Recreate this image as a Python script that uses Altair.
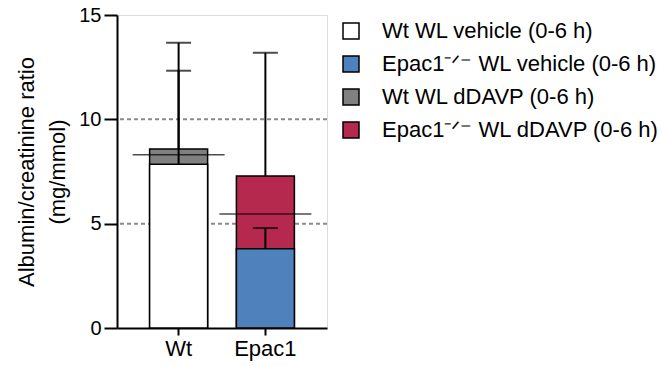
import altair as alt
import pandas as pd

groups = ["Wt", "Epac1"]
vehicle_mean = [7.85, 3.80]
vehicle_err = [12.33, 4.79]
ddavp_mean = [8.58, 7.29]
ddavp_err = [13.67, 13.19]
overall_line = [8.30, 5.46]
grid_values = [5, 10]

series_names = [
    "Wt WL vehicle (0-6 h)",
    "Epac1\u207b\u141f\u207b WL vehicle (0-6 h)",
    "Wt WL dDAVP (0-6 h)",
    "Epac1\u207b\u141f\u207b WL dDAVP (0-6 h)",
]
series_colors = ["#ffffff", "#4f81bd", "#808080", "#b5294f"]

veh = pd.DataFrame({
    "group": groups,
    "series": [series_names[0], series_names[1]],
    "value": vehicle_mean,
    "err": vehicle_err,
})
dd = pd.DataFrame({
    "group": groups,
    "series": [series_names[2], series_names[3]],
    "value": ddavp_mean,
    "err": ddavp_err,
})
allbars = pd.concat([dd, veh], ignore_index=True)
lines_df = pd.DataFrame({"group": groups, "line": overall_line})
grid_df = pd.DataFrame({"y": grid_values})

FONT = "Liberation Sans"

xenc = alt.X(
    "group:N",
    sort=groups,
    title=None,
    scale=alt.Scale(paddingOuter=0.21, paddingInner=0),
    axis=alt.Axis(labelAngle=0, labelFontSize=22, tickSize=7, tickWidth=2,
                  domainWidth=2, domainColor="black", tickColor="black",
                  labelColor="black", labelPadding=3, labelFont=FONT),
)
yscale = alt.Scale(domain=[0, 15], nice=False)
yenc = alt.Y(
    "value:Q",
    scale=yscale,
    title=["Albumin/creatinine ratio", "(mg/mmol)"],
    axis=alt.Axis(values=[0, 5, 10, 15], grid=False, labelFontSize=20,
                  tickSize=13, tickWidth=2, domainWidth=2, domainColor="black",
                  tickColor="black", labelColor="black", labelPadding=3,
                  titleFontSize=22, titleFontWeight="normal", titleColor="black",
                  titleLineHeight=31, titlePadding=9, labelFont=FONT, titleFont=FONT),
)
fill_enc = alt.Fill(
    "series:N",
    scale=alt.Scale(domain=series_names, range=series_colors),
    legend=alt.Legend(
        title=None, orient="none", legendX=223, legendY=5,
        symbolType="square", symbolSize=256, symbolStrokeColor="black",
        symbolStrokeWidth=1.5, symbolOpacity=1, labelFontSize=22,
        labelOffset=20, rowPadding=11, padding=0, labelFont=FONT,
        labelColor="black", labelLimit=400,
    ),
)

grid = alt.Chart(grid_df).mark_rule(color="#8a8a8a", strokeWidth=2, strokeDash=[4, 3]).encode(
    y=alt.Y("y:Q", scale=yscale)
)

bars_dd = alt.Chart(dd).mark_bar(size=58, stroke="black", strokeWidth=1.5, opacity=1).encode(
    x=xenc, y=yenc, fill=fill_enc
)
bars_veh = alt.Chart(veh).mark_bar(size=58, stroke="black", strokeWidth=1.5, opacity=1).encode(
    x=xenc, y=yenc, fill=fill_enc
)
whiskers = alt.Chart(allbars).mark_rule(color="black", strokeWidth=2).encode(
    x=xenc, y=alt.Y("value:Q", scale=yscale), y2="err:Q"
)
caps = alt.Chart(allbars).mark_tick(color="black", orient="horizontal", size=25, thickness=2).encode(
    x=xenc, y=alt.Y("err:Q", scale=yscale)
)
longlines = alt.Chart(lines_df).mark_tick(color="black", orient="horizontal", size=92, thickness=1.5).encode(
    x=xenc, y=alt.Y("line:Q", scale=yscale)
)

chart = alt.layer(grid, bars_dd, bars_veh, whiskers, caps, longlines).properties(
    width=210, height=313,
    padding={"left": 117, "top": 15, "right": 335, "bottom": 38},
    autosize=alt.AutoSizeParams(type="none"),
).configure_view(fill="#fdfbd6", strokeWidth=0).configure(font=FONT)

chart.save("out.html", embed_options={"renderer": "svg", "actions": False})
